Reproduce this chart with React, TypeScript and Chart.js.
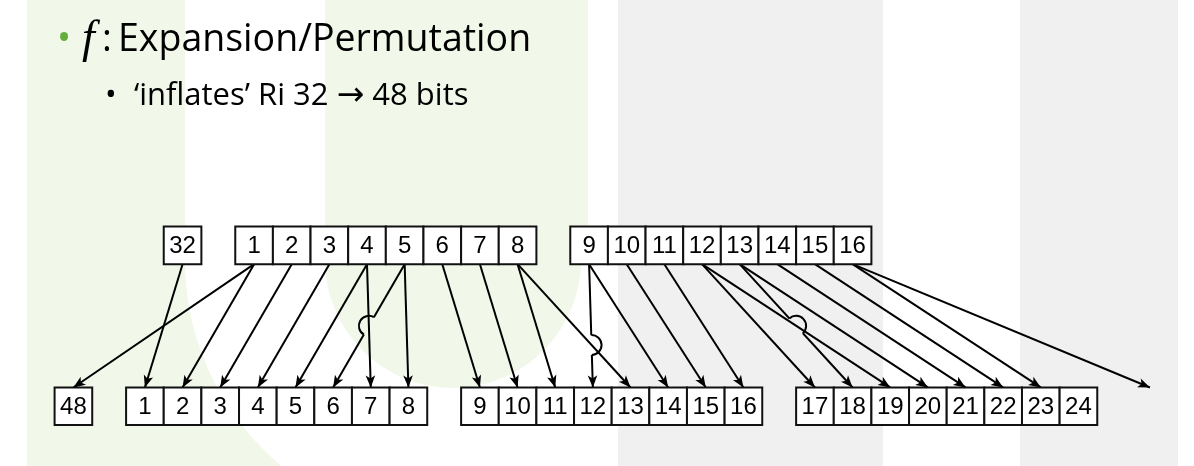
import React, { useEffect, useRef } from 'react'
import { Chart, registerables } from 'chart.js'

Chart.register(...registerables)

// upper register: R_i, with bit 32 copied in front as the wrap-around bit
const inputGroups = [[32], [1, 2, 3, 4, 5, 6, 7, 8], [9, 10, 11, 12, 13, 14, 15, 16]]
// lower register: the expanded 48-bit block, bit 48 copied in front
const outputGroups = [
  [48],
  [1, 2, 3, 4, 5, 6, 7, 8],
  [9, 10, 11, 12, 13, 14, 15, 16],
  [17, 18, 19, 20, 21, 22, 23, 24],
]
// outputs whose box is cut off on the right, only the arrow shows
const offPageOutputs = [25]
// DES expansion table E: output bit n comes from input bit expansion[n - 1]
const expansion = [
  32, 1, 2, 3, 4, 5, 4, 5, 6, 7, 8, 9, 8, 9, 10, 11, 12, 13, 12, 13, 14, 15, 16, 17,
  16, 17, 18, 19, 20, 21, 20, 21, 22, 23, 24, 25, 24, 25, 26, 27, 28, 29, 28, 29, 30, 31, 32, 1,
]
// arrows that jump over another one: [jumping output, crossed output]
const hopOutputs = [
  [6, 7],
  [12, 13],
  [18, 19],
]

// layout in box widths
const GROUP_STEP = 8.9
const WRAP_GAP = 1.9
const TOP_SHIFT = 2.9
const ROW_GAP = 3.28
const X_MIN = -3.35
const X_MAX = 28.37
const Y_MIN = -2.09
const Y_MAX = 10.31
const HOP_R = 10

const GREEN = '#f1f8e9'
const GREY = '#f0f0f0'

function slotLeft(bit: number, wrapBit: number, shift: number) {
  if (bit === wrapBit) return shift - WRAP_GAP
  return shift + Math.floor((bit - 1) / 8) * GROUP_STEP + ((bit - 1) % 8)
}
const inputCenter = (bit: number) => slotLeft(bit, inputGroups[0][0], TOP_SHIFT) + 0.5
const outputCenter = (bit: number) => slotLeft(bit, outputGroups[0][0], 0) + 0.5

const boxPoints = [
  ...inputGroups.flat().map((b) => ({ x: inputCenter(b), y: ROW_GAP + 0.5, label: String(b) })),
  ...outputGroups.flat().map((b) => ({ x: outputCenter(b), y: -0.5, label: String(b) })),
]

const shownInputs = new Set(inputGroups.flat())
const arrows = [...outputGroups.flat(), ...offPageOutputs]
  .map((out) => ({ out, src: expansion[out - 1] }))
  .filter((a) => shownInputs.has(a.src))

type P = { x: number; y: number }

function crossing(a0: P, a1: P, b0: P, b1: P): P {
  const dax = a1.x - a0.x
  const day = a1.y - a0.y
  const dbx = b1.x - b0.x
  const dby = b1.y - b0.y
  const t = ((b0.x - a0.x) * dby - (b0.y - a0.y) * dbx) / (dax * dby - day * dbx)
  return { x: a0.x + t * dax, y: a0.y + t * day }
}

function linePts(chart: any, out: number): [P, P] | null {
  const i = chart.data.datasets.findIndex((d: any) => d.arrowOut === out)
  if (i < 0) return null
  const pts = chart.getDatasetMeta(i).data
  return [
    { x: pts[0].x, y: pts[0].y },
    { x: pts[1].x, y: pts[1].y },
  ]
}

function hopFor(chart: any, out: number) {
  const h = hopOutputs.find((p) => p[0] === out)
  if (!h) return null
  const a = linePts(chart, h[0])
  const b = linePts(chart, h[1])
  if (!a || !b) return null
  return { c: crossing(a[0], a[1], b[0], b[1]), a }
}

const diagramPlugin = {
  id: 'diagram',
  beforeDatasetDraw(chart: any, args: any) {
    const ds = chart.data.datasets[args.index]
    const hop = ds.arrowOut ? hopFor(chart, ds.arrowOut) : null
    if (!hop) return
    const ctx = chart.ctx
    ctx.save()
    ctx.beginPath()
    ctx.rect(0, 0, chart.width, chart.height)
    ctx.moveTo(hop.c.x + HOP_R, hop.c.y)
    ctx.arc(hop.c.x, hop.c.y, HOP_R, 0, Math.PI * 2)
    ctx.clip('evenodd')
  },
  afterDatasetDraw(chart: any, args: any) {
    const ds = chart.data.datasets[args.index]
    const hop = ds.arrowOut ? hopFor(chart, ds.arrowOut) : null
    if (!hop) return
    const ctx = chart.ctx
    ctx.restore()
    const [p0, p1] = hop.a
    const th = Math.atan2(p1.y - p0.y, p1.x - p0.x)
    ctx.save()
    ctx.strokeStyle = ds.borderColor
    ctx.lineWidth = ds.borderWidth
    ctx.beginPath()
    // bulge always to the upper side of the line
    ctx.arc(hop.c.x, hop.c.y, HOP_R, th + Math.PI, th, p1.x < p0.x)
    ctx.stroke()
    ctx.restore()
  },
  afterDatasetsDraw(chart: any) {
    const ctx = chart.ctx
    ctx.save()
    ctx.fillStyle = '#000'
    chart.data.datasets.forEach((ds: any) => {
      if (!ds.arrowOut) return
      const pts = linePts(chart, ds.arrowOut)
      if (!pts) return
      const [p0, p1] = pts
      const len = Math.hypot(p1.x - p0.x, p1.y - p0.y)
      const ux = (p1.x - p0.x) / len
      const uy = (p1.y - p0.y) / len
      const L = 12
      const W = 4.8
      ctx.beginPath()
      ctx.moveTo(p1.x, p1.y)
      ctx.lineTo(p1.x - L * ux - W * uy, p1.y - L * uy + W * ux)
      ctx.lineTo(p1.x - (L - 3) * ux, p1.y - (L - 3) * uy)
      ctx.lineTo(p1.x - L * ux + W * uy, p1.y - L * uy - W * ux)
      ctx.closePath()
      ctx.fill()
    })
    const meta = chart.getDatasetMeta(0)
    ctx.font = '24px "Liberation Sans", Arial, sans-serif'
    ctx.textAlign = 'center'
    ctx.textBaseline = 'middle'
    meta.data.forEach((el: any, i: number) => {
      ctx.fillText(boxPoints[i].label, el.x, el.y + 1)
    })
    ctx.restore()
  },
}

const cellPx = (chart: any) => {
  const s = chart.scales.x
  return s.getPixelForValue(1) - s.getPixelForValue(0)
}

export default function App() {
  const ref = useRef<HTMLCanvasElement | null>(null)

  useEffect(() => {
    if (!ref.current) return
    const chart = new Chart(ref.current, {
      type: 'scatter',
      data: {
        datasets: [
          {
            label: 'bits',
            data: boxPoints,
            pointStyle: 'rect',
            pointRadius: (c: any) => cellPx(c.chart) / 2 / Math.SQRT1_2,
            pointBackgroundColor: '#fff',
            pointBorderColor: '#111',
            pointBorderWidth: 2,
            showLine: false,
            order: 0,
          } as any,
          ...arrows.map(
            (a) =>
              ({
                label: `${a.src} → ${a.out}`,
                data: [
                  { x: inputCenter(a.src), y: ROW_GAP },
                  { x: outputCenter(a.out), y: 0 },
                ],
                showLine: true,
                borderColor: '#000',
                borderWidth: 2,
                pointRadius: 0,
                order: 1,
                arrowOut: a.out,
              }) as any,
          ),
        ],
      },
      options: {
        animation: false,
        responsive: true,
        maintainAspectRatio: false,
        events: [],
        layout: { padding: 0 },
        plugins: { legend: { display: false }, tooltip: { enabled: false } },
        scales: {
          x: { type: 'linear', min: X_MIN, max: X_MAX, display: false },
          y: { type: 'linear', min: Y_MIN, max: Y_MAX, display: false },
        },
      },
      plugins: [diagramPlugin],
    })
    return () => chart.destroy()
  }, [])

  const abs = (s: React.CSSProperties): React.CSSProperties => ({ position: 'absolute', ...s })

  return (
    <div
      style={{
        position: 'fixed',
        left: 0,
        top: 0,
        width: 1194,
        height: 466,
        overflow: 'hidden',
        background: '#fff',
        fontFamily: '"Open Sans", sans-serif',
        color: '#000',
      }}
    >
      {/* faint logo watermark */}
      <div style={abs({ left: 27, top: 0, width: 561, height: 466, background: GREEN })} />
      <div style={abs({ left: 185, top: 0, width: 140, height: 260, background: '#fff' })} />
      <div
        style={abs({
          left: 185,
          top: -8,
          width: 536,
          height: 536,
          boxSizing: 'border-box',
          border: '140px solid #fff',
          borderRadius: '50%',
          clipPath: 'inset(268px 0 0 0)',
        })}
      />
      <div style={abs({ left: 618, top: 0, width: 265, height: 466, background: GREY })} />
      <div style={abs({ left: 1020, top: 0, width: 158, height: 466, background: GREY })} />

      <div style={abs({ left: 0, top: 0, width: 1194, height: 466 })}>
        <canvas ref={ref} />
      </div>

      <span style={abs({ left: 57, top: 18, fontSize: 37.5, lineHeight: '37.5px', color: '#62ad3c' })}>•</span>
      <span
        style={abs({
          left: 82,
          top: 14,
          fontSize: 46,
          lineHeight: '46px',
          fontFamily: '"Liberation Serif", serif',
          fontStyle: 'italic',
        })}
      >
        f
      </span>
      <span style={abs({ left: 102, top: 18, fontSize: 37.5, lineHeight: '37.5px' })}>:</span>
      <span style={abs({ left: 118, top: 18, fontSize: 37.5, lineHeight: '37.5px', whiteSpace: 'nowrap' })}>
        Expansion/Permutation
      </span>

      <span style={abs({ left: 105, top: 78, fontSize: 31, lineHeight: '31px' })}>•</span>
      <span style={abs({ left: 134, top: 78, fontSize: 31, lineHeight: '31px', whiteSpace: 'nowrap' })}>
        ‘inflates’ Ri 32{' '}
        <span style={{ fontFamily: '"DejaVu Sans", sans-serif', fontSize: 33, lineHeight: '31px' }}>→</span> 48 bits
      </span>
    </div>
  )
}
